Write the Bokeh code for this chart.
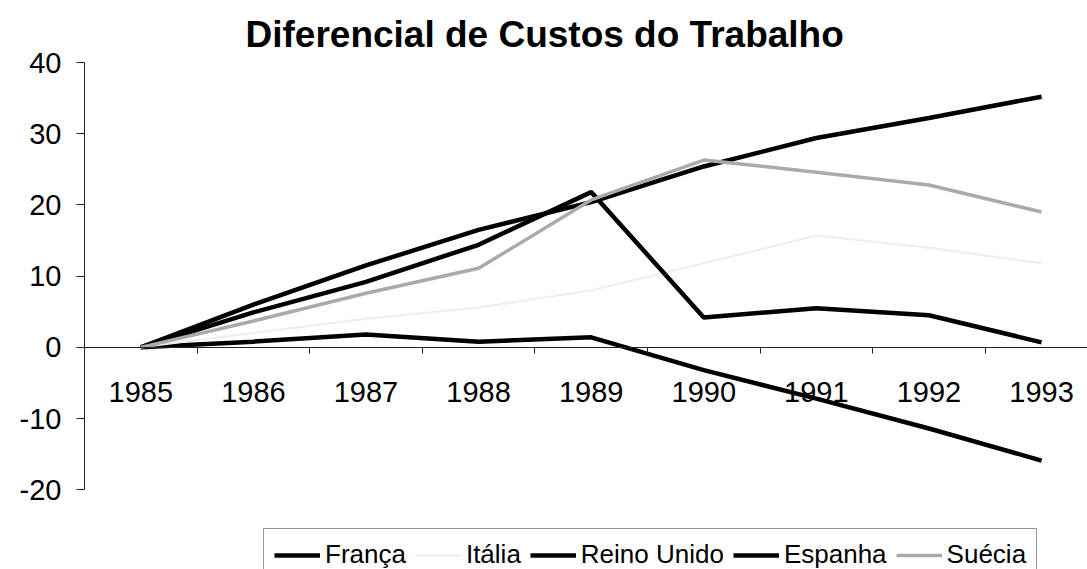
from bokeh.plotting import figure
from bokeh.models import Range1d, FixedTicker, LinearAxis, Legend, LegendItem
from bokeh.embed import file_html
from bokeh.resources import INLINE

years = ["1985", "1986", "1987", "1988", "1989", "1990", "1991", "1992", "1993"]
franca = [0, 0.8, 1.8, 0.8, 1.4, -3.2, -7.2, -11.4, -15.9]
italia = [0, 2.0, 4.0, 5.6, 8.0, 11.8, 15.7, 14.0, 11.8]
reino_unido = [0, 4.9, 9.2, 14.4, 21.8, 4.2, 5.5, 4.5, 0.7]
espanha = [0, 6.0, 11.5, 16.5, 20.4, 25.4, 29.4, 32.2, 35.2]
suecia = [0, 3.7, 7.6, 11.1, 20.7, 26.3, 24.6, 22.8, 19.0]
y_ticks = [-20, -10, 0, 10, 20, 30, 40]

FONT = "Liberation Sans"
xs = [i + 0.5 for i in range(len(years))]

p = figure(width=1087, height=569, output_backend="svg", toolbar_location=None,
           x_range=Range1d(0, 8.908), y_range=Range1d(-31.2, 40),
           x_axis_location=None, y_axis_location=None,
           min_border_left=84, min_border_right=0, min_border_top=62, min_border_bottom=0)
p.outline_line_color = None
p.grid.visible = False
p.background_fill_color = "white"
p.border_fill_color = "white"

p.title.text = "Diferencial de Custos do Trabalho"
p.title.text_font = FONT
p.title.text_font_size = "37px"
p.title.text_font_style = "bold"
p.title.text_color = "black"
p.title.align = "left"
p.title.offset = 161
p.title.standoff = 16

yaxis = LinearAxis(ticker=FixedTicker(ticks=y_ticks), bounds=(-20, 40),
                   major_label_overrides={t: str(t) for t in y_ticks})
yaxis.axis_line_color = "#222222"
yaxis.major_tick_line_color = "#222222"
yaxis.major_tick_out = 8
yaxis.major_tick_in = 0
yaxis.minor_tick_line_color = None
yaxis.major_label_text_font = FONT
yaxis.major_label_text_font_size = "29px"
yaxis.major_label_text_color = "black"
yaxis.major_label_standoff = 15
p.add_layout(yaxis, "left")

xticks_axis = LinearAxis(ticker=FixedTicker(ticks=list(range(1, len(years)))), fixed_location=0)
xticks_axis.axis_line_color = "#222222"
xticks_axis.major_tick_line_color = "#222222"
xticks_axis.major_tick_out = 6
xticks_axis.major_tick_in = 0
xticks_axis.minor_tick_line_color = None
xticks_axis.major_label_text_alpha = 0
xticks_axis.major_label_text_font_size = "1px"
p.add_layout(xticks_axis, "below")

xlab_axis = LinearAxis(ticker=FixedTicker(ticks=xs), fixed_location=0,
                       major_label_overrides={x: y for x, y in zip(xs, years)})
xlab_axis.axis_line_color = None
xlab_axis.major_tick_line_color = None
xlab_axis.minor_tick_line_color = None
xlab_axis.major_label_text_font = FONT
xlab_axis.major_label_text_font_size = "29px"
xlab_axis.major_label_text_color = "black"
xlab_axis.major_label_standoff = 29
p.add_layout(xlab_axis, "below")

r_fr = p.line(xs, franca, line_color="black", line_width=4.5)
r_it = p.line(xs, italia, line_color="#ededed", line_width=2)
r_ru = p.line(xs, reino_unido, line_color="black", line_width=4.5)
r_es = p.line(xs, espanha, line_color="black", line_width=4.5)
r_su = p.line(xs, suecia, line_color="#aaaaaa", line_width=3.5)

legend = Legend(items=[
    LegendItem(label="França", renderers=[r_fr]),
    LegendItem(label="Itália", renderers=[r_it]),
    LegendItem(label="Reino Unido", renderers=[r_ru]),
    LegendItem(label="Espanha", renderers=[r_es]),
    LegendItem(label="Suécia", renderers=[r_su]),
], orientation="horizontal", location=(179, -12))
legend.border_line_color = "#333333"
legend.border_line_width = 1
legend.background_fill_color = "white"
legend.background_fill_alpha = 1
legend.label_text_font = FONT
legend.label_text_font_size = "26px"
legend.label_text_color = "black"
legend.glyph_width = 46
legend.glyph_height = 24
legend.label_height = 24
legend.label_standoff = 5
legend.spacing = 9
legend.padding = 10
legend.margin = 0
p.add_layout(legend, "center")

open("out.html", "w").write(file_html(p, INLINE))
